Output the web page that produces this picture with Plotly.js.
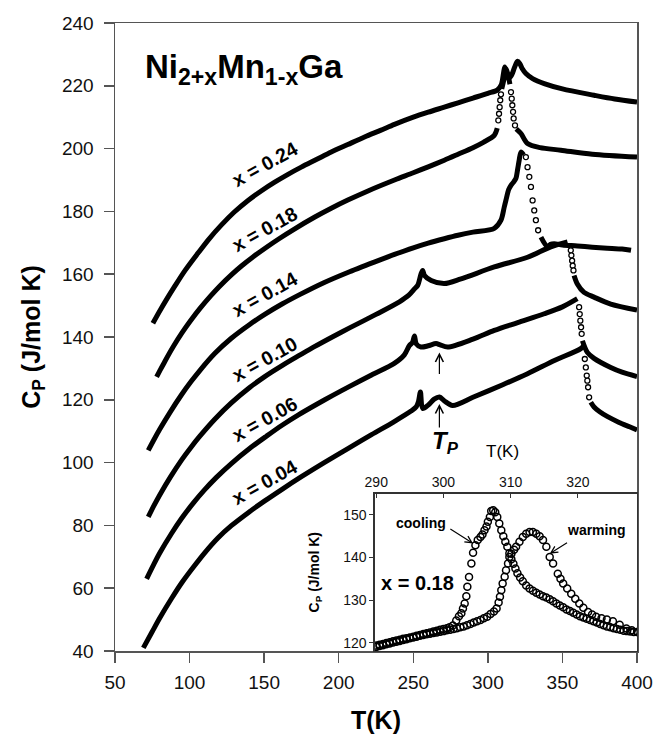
<!DOCTYPE html>
<html>
<head>
<meta charset="utf-8">
<script src="https://cdn.plot.ly/plotly-3.0.1.min.js"></script>
<style>html,body{margin:0;padding:0;background:#fff;}#chart{width:657px;height:734px;}</style>
</head>
<body>
<div id="chart"></div>
<script>
// ---------- main panel: Cp(T) for Ni2+xMn1-xGa (curves offset vertically) ----------
var xTicks = [50, 100, 150, 200, 250, 300, 350, 400];
var yTicks = [40, 60, 80, 100, 120, 140, 160, 180, 200, 220, 240];

var t24 = [75.4,80,85,90,97,105.8,113,121.4,130,139.2,148,157.1,166,174.9,185,195,206.1,217.3,228,237.4,250,260,270.8,280,290,300,306.5,309,310.5,311.3,312.3,314,316,318,319.9,321.5,323,325.5,330,337.8,350,371.2,385,400];
var c24 = [144.4,148.3,152.3,156.1,161.2,166.8,171.2,175.7,179.8,183.5,186.5,189.3,191.8,194.1,196.5,198.9,201.3,203.7,205.8,207.7,210,211.6,213.2,214.6,216.1,217.6,218.7,220.3,224,226,223.5,222.5,223.5,226,227.8,227,225.5,223.9,222.3,220.7,219,217,215.8,214.8];

var t18 = [77.9,80,83.5,89,95,101,107,114,120,128,135,142.5,150.4,160,170,184,195,206.1,220,237.4,250,260,270.8,280,290,297,304.3,306.3,null,309.3,311,312.2,313.5,314.8,null,319,322.2,326.6,335,348.9,370,400];
var c18 = [127.3,129.2,132.3,136.9,141.4,145.4,149.1,153,156.1,159.8,162.7,165.5,168.2,171.3,174.3,178.2,181,183.6,186.6,190,192.3,194.2,196.3,198.2,200.3,202,204.2,206.5,null,219,222.5,225.5,223.5,220.5,null,206.3,204.8,201.6,200.3,199.5,198.2,197.3];
var t18c = [307,307.5,307.9,308.3,308.8,315.5,316,316.4,316.9,317.3,318.2];
var c18c = [209,211.1,213.2,215.4,217.3,218,215.9,213.8,211.7,209.6,207.4];

var t14 = [72.3,76,80,87,94.6,101,107,117,128,140.3,150.4,162,173.8,190,207.3,227.3,237.4,250,260,270.8,280,290,304.3,308.8,311,312.1,314,315.5,317.5,318.8,320,321,322.2,324,null,335.6,340,342,344.5,350,360,370,380,390,396];
var c14 = [103.9,107.2,110.6,116.1,121.6,125.8,129.4,134.8,139.6,144,147.2,150.5,153.5,157.3,160.8,164.5,166.3,168.4,169.9,171.3,172.4,173.4,174.6,177.2,181.4,183.5,187,188.3,189.5,190.5,193.5,196.3,198.9,198,null,171.8,168.7,169.5,169.7,169.3,169,168.6,168.3,168,167.6];
var t14c = [325.5,326.6,327.8,328.9,330,331.1,332.2,333.7];
var c14c = [197.3,194.1,191,187.8,183.5,180.3,177.2,174];

var t10 = [72.3,76,80,87,94.6,101,106.9,116.9,128,140.3,150.4,162,173.8,184,196,207.3,225,240.7,247,250.8,253,255.2,256.3,257.5,262,270.8,282,304.3,326.6,342.2,353.4,null,357.8,360,364.5,371.2,382.4,400];
var c10 = [82.7,86.2,89.7,95.3,100.8,104.9,108.4,113.8,119,123.9,127.4,130.9,134.2,137,140.1,142.9,147.2,151.2,153.3,155.3,156.5,160.1,161.2,159.6,158,157,158.5,162.3,165.4,168.7,170.3,null,159.6,156.9,154.2,152.7,150.5,148.6];
var t10c = [355.6,356,356.5,356.9,357.4];
var c10c = [167.6,166,164.3,162.7,161.2];

var t06 = [71.2,76,80,88,94.6,103,110,118,128,140,151.5,162,173,185,196,207,222,237,244,247.4,249.5,250.8,252,255.2,260,265.3,268,273,290,304.3,320,337.8,350,360,null,363.4,366.7,371.2,382.4,390,400];
var c06 = [63,67.6,71.2,77.5,82.2,87.4,91.3,95.3,99.7,104.4,108.4,111.9,115.2,118.5,121.4,124.2,127.9,131.5,134.3,137.3,138.3,140.3,137.8,136.8,137.2,137.9,137.5,136.8,139.3,142.1,144.6,147.4,149.6,152.2,null,138.8,135.1,133.2,130.3,128.8,127.4];
var t06c = [361.2,361.6,362,362.5,362.9];
var c06c = [149.5,147.3,145.2,143.1,141];

var t04 = [69,75,80,88,95,103,110,119,128,140,150.4,162,175,190,207,222,237,248.5,252,253.5,254.8,256.3,260,264,267.5,271,276.4,290,310,326.6,345,362.3,364.5,null,369,371.2,375,380,388,395,400];
var c04 = [41,46.2,50.5,56.8,61.9,67,71.2,76,79.9,84.3,87.8,91.5,95.5,99.9,104.7,108.9,113,116.4,117.8,119.5,122.5,117.2,118.3,120.2,120.9,119.6,118.2,120.8,124.8,128.3,132.6,136.3,137.4,null,119.2,117.7,116.2,114.7,112.8,111.4,110.4];
var t04c = [365,365.7,366.3,366.7,367.2,367.9];
var c04c = [133,130.3,127.7,126.1,124,120.8];

var curveLabels = ['x = 0.24','x = 0.18','x = 0.14','x = 0.10','x = 0.06','x = 0.04'];
var labelT = [150.4,150.4,150.4,150.4,150.4,150.4];
var labelC = [195.2,174.4,153.7,133,113.9,93.7];

// ---------- inset: x = 0.18, cooling vs warming ----------
var insetXTicks = [290, 300, 310, 320];
var insetYTicks = [120, 130, 140, 150];
var tCool = [290,290.5,291,291.5,292,292.5,293,293.5,294,294.5,295,295.5,296,296.5,297,297.5,298,298.5,299,299.5,300,300.5,300.9,301.4,301.9,302.3,302.66,302.9,303.15,303.4,303.55,303.8,304.15,304.4,304.75,305.1,305.5,305.8,306.1,306.4,306.6,306.9,307.1,307.4,307.7,308,308.3,308.6,308.9,309.2,309.5,309.8,310.1,310.4,310.7,311,311.4,311.8,312.3,312.8,313.3,313.8,314.3,314.8,315.3,315.8,316.3,316.8,317.3,317.8,318.3,318.8,319.3,319.8,320.3,320.8,321.3,321.8,322.3,322.8,323.3,323.8,324.3,324.8,325.3,325.8,326.3,326.8,327.3,327.8,328.3,328.8];
var cCool = [119.3,119.5,119.7,119.9,120.1,120.3,120.5,120.7,120.9,121,121.2,121.4,121.6,121.8,122,122.2,122.4,122.6,122.8,123,123.2,123.4,123.6,124,125.2,126.2,126.9,128,129.2,130.9,133.1,135.4,138.6,141.1,142.9,144.1,144.8,145.4,146.4,147.3,148.4,149.5,150.9,151.1,150.6,149.5,148,146.4,145,143.7,142.5,141,139.6,138.5,137.4,136.3,135.3,134.4,133.4,132.7,132.2,131.7,131.3,130.9,130.6,130.2,129.7,129.2,128.7,128.3,127.8,127.4,127,126.6,126.2,125.9,125.6,125.3,125,124.7,124.4,124.1,123.8,123.6,123.4,123.2,123,122.8,122.7,122.6,122.5,122.5];
var tWarm = [290,290.5,291,291.5,292,292.5,293,293.5,294,294.5,295,295.5,296,296.5,297,297.5,298,298.5,299,299.5,300,300.5,301,301.5,302,302.5,303,303.5,304,304.5,305,305.5,306,306.5,307,307.5,307.9,308.2,308.4,308.6,308.8,309.1,309.3,309.6,309.8,310.1,310.5,310.8,311.3,311.8,312.3,312.8,313.3,313.8,314.3,314.8,315.3,315.8,316.3,317,317.4,317.8,318.4,319,319.6,320.2,320.8,321.5,322.1,322.7,323.5,324.3,325.2,326.2,327.2,328,328.9];
var cWarm = [119,119.2,119.4,119.6,119.8,120,120.2,120.4,120.6,120.8,121,121.2,121.4,121.6,121.8,121.95,122.1,122.25,122.4,122.55,122.7,122.9,123,123.2,123.4,123.6,123.8,124.1,124.4,124.7,125,125.3,125.7,126.1,126.7,127.3,128,129.4,130.8,132.3,133.9,135.5,137,138.6,140.1,140.9,141.8,142.5,143.7,144.8,145.6,146,146,145.6,145,144.1,142.5,140.1,138.6,136.2,135,133.9,132.7,131.5,130.3,129.2,128.2,127.2,126.6,126.1,125.7,125.4,125,124.2,123.3,122.9,122.5];

var FONT = 'Liberation Sans, Arial, Helvetica, sans-serif';

function lineTrace(t, c) {
  return {x: t, y: c, type: 'scatter', mode: 'lines', connectgaps: false,
    line: {color: '#000', width: 5, shape: 'spline', smoothing: 0.85}, hoverinfo: 'skip', showlegend: false};
}
function circTrace(t, c) {
  return {x: t, y: c, type: 'scatter', mode: 'markers',
    marker: {symbol: 'circle', size: 5, color: '#fff', line: {color: '#000', width: 1.3}}, hoverinfo: 'skip', showlegend: false};
}
function insetTrace(t, c) {
  return {x: t, y: c, xaxis: 'x2', yaxis: 'y2', type: 'scatter', mode: 'markers',
    marker: {symbol: 'circle-open', size: 7, color: '#000', line: {color: '#000', width: 1.5}}, hoverinfo: 'skip', showlegend: false};
}

var data = [
  lineTrace(t24, c24),
  lineTrace(t18, c18), circTrace(t18c, c18c),
  lineTrace(t14, c14), circTrace(t14c, c14c),
  lineTrace(t10, c10), circTrace(t10c, c10c),
  lineTrace(t06, c06), circTrace(t06c, c06c),
  lineTrace(t04, c04), circTrace(t04c, c04c),
  insetTrace(tCool, cCool),
  insetTrace(tWarm, cWarm)
];

var annotations = [
  {xref: 'paper', yref: 'paper', x: 0.0536, y: 0.963, xanchor: 'left', yanchor: 'top', showarrow: false,
   text: '<b>Ni<sub>2+x</sub>Mn<sub>1-x</sub>Ga</b>', font: {family: FONT, size: 33, color: '#000'}},
  // T_P marker
  {xref: 'x', yref: 'y', x: 271.5, y: 106.3, xanchor: 'center', yanchor: 'middle', showarrow: false,
   text: '<b><i>T</i><sub><i>P</i></sub></b>', font: {family: FONT, size: 24, color: '#000'}},
  {xref: 'x', yref: 'y', axref: 'x', ayref: 'y', x: 267.5, y: 135.1, ax: 267.5, ay: 127.7, text: '',
   showarrow: true, arrowhead: 5, arrowsize: 1.3, arrowwidth: 1.2, arrowcolor: '#000', standoff: 0, startstandoff: 0},
  {xref: 'x', yref: 'y', axref: 'x', ayref: 'y', x: 267.5, y: 118.7, ax: 267.5, ay: 110.7, text: '',
   showarrow: true, arrowhead: 5, arrowsize: 1.3, arrowwidth: 1.2, arrowcolor: '#000', standoff: 0, startstandoff: 0},
  // inset labels
  {xref: 'paper', yref: 'paper', x: 0.7416, y: 0.3169, xanchor: 'center', yanchor: 'middle', showarrow: false,
   text: 'T(K)', font: {family: FONT, size: 17, color: '#000'}},
  {xref: 'paper', yref: 'paper', x: 0.383, y: 0.125, xanchor: 'center', yanchor: 'middle', showarrow: false,
   textangle: -90, text: '<b>C<sub>P</sub> (J/mol K)</b>', font: {family: FONT, size: 14, color: '#000'}},
  {xref: 'x2', yref: 'y2', x: 296.2, y: 133.9, xanchor: 'center', yanchor: 'middle', showarrow: false,
   text: '<b>x = 0.18</b>', font: {family: FONT, size: 20, color: '#000'}},
  {xref: 'x2', yref: 'y2', x: 296.6, y: 148, xanchor: 'center', yanchor: 'middle', showarrow: false,
   text: '<b>cooling</b>', font: {family: FONT, size: 14, color: '#000'}},
  {xref: 'x2', yref: 'y2', x: 322.7, y: 146.4, xanchor: 'center', yanchor: 'middle', showarrow: false,
   text: '<b>warming</b>', font: {family: FONT, size: 14, color: '#000'}},
  {xref: 'x2', yref: 'y2', axref: 'x2', ayref: 'y2', x: 304.4, y: 143.3, ax: 300.8, ay: 146.9, text: '',
   showarrow: true, arrowhead: 5, arrowsize: 1.2, arrowwidth: 1.1, arrowcolor: '#000', standoff: 0, startstandoff: 0},
  {xref: 'x2', yref: 'y2', axref: 'x2', ayref: 'y2', x: 315.8, y: 140.9, ax: 318.6, ay: 143.7, text: '',
   showarrow: true, arrowhead: 5, arrowsize: 1.2, arrowwidth: 1.1, arrowcolor: '#000', standoff: 0, startstandoff: 0}
];
for (var i = 0; i < curveLabels.length; i++) {
  annotations.push({xref: 'x', yref: 'y', x: labelT[i], y: labelC[i], xanchor: 'center', yanchor: 'middle',
    showarrow: false, textangle: -29, text: '<b>' + curveLabels[i] + '</b>',
    font: {family: FONT, size: 19.5, color: '#000'}});
}

var layout = {
  width: 657, height: 734,
  margin: {l: 115, r: 20, t: 23, b: 83, pad: 0},
  paper_bgcolor: '#fff', plot_bgcolor: '#fff',
  font: {family: FONT, color: '#111'},
  showlegend: false,
  xaxis: {range: [50, 400], tickvals: xTicks, ticktext: xTicks.map(String), ticks: 'outside', ticklen: 10,
    tickwidth: 1.5, tickcolor: '#555', showline: true, linecolor: '#555', linewidth: 1.5, mirror: true,
    showgrid: false, zeroline: false, ticklabelstandoff: 4, tickfont: {family: FONT, size: 19, color: '#111'},
    title: {text: '<b>T(K)</b>', font: {family: FONT, size: 25, color: '#000'}, standoff: 20}},
  yaxis: {range: [40, 240], tickvals: yTicks, ticktext: yTicks.map(String), ticks: 'outside', ticklen: 10,
    tickwidth: 1.5, tickcolor: '#555', showline: true, linecolor: '#555', linewidth: 1.5, mirror: true,
    showgrid: false, zeroline: false, ticklabelstandoff: 6, tickfont: {family: FONT, size: 19, color: '#111'},
    title: {text: '<b>C<sub>P</sub> (J/mol K)</b>', font: {family: FONT, size: 25, color: '#000'}, standoff: 14}},
  xaxis2: {domain: [0.4976, 1], anchor: 'y2', side: 'top', range: [289.78, 328.78], tickvals: insetXTicks,
    ticktext: insetXTicks.map(String), ticks: 'inside', ticklen: 4, tickcolor: '#333', showline: true,
    linecolor: '#333', linewidth: 1.3, mirror: true, showgrid: false, zeroline: false,
    tickfont: {family: FONT, size: 14, color: '#111'}},
  yaxis2: {domain: [0, 0.2506], anchor: 'x2', range: [118.03, 155], tickvals: insetYTicks,
    ticktext: insetYTicks.map(String), ticks: 'outside', ticklen: 4, tickcolor: '#333', showline: true,
    linecolor: '#333', linewidth: 1.3, mirror: true, showgrid: false, zeroline: false,
    tickfont: {family: FONT, size: 14, color: '#111'}},
  annotations: annotations
};

Plotly.newPlot('chart', data, layout, {staticPlot: true, displayModeBar: false});
</script>
</body>
</html>
